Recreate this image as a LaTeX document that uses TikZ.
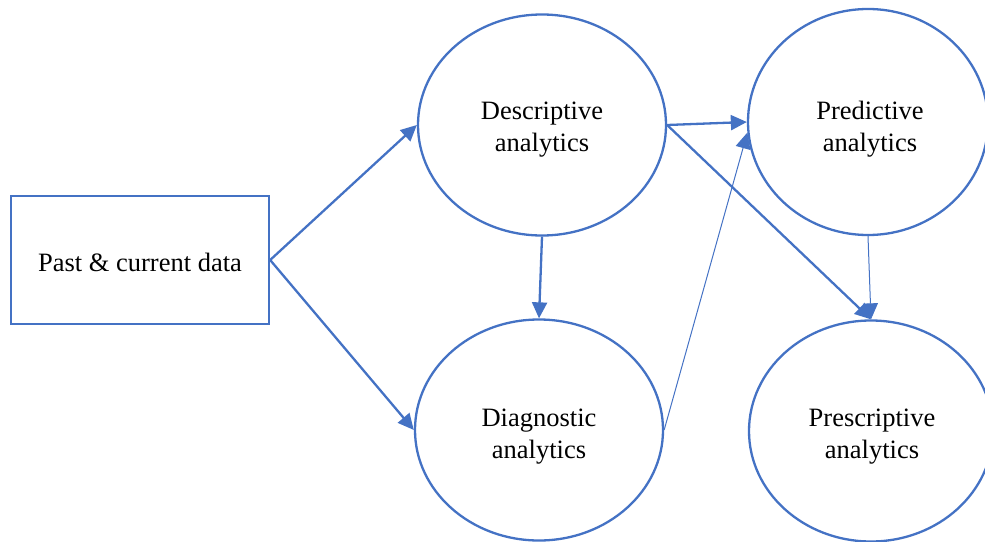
\documentclass[tikz,border=0pt]{standalone}
\usepackage{fontspec}
\setmainfont{Liberation Serif}
\usetikzlibrary{shapes.geometric,arrows.meta}
\definecolor{wblue}{HTML}{4472C4}
\tikzset{
  bub/.style={ellipse,draw=wblue,line width=2.3pt,minimum width=248pt,minimum height=221pt,inner sep=0pt},
  txt/.style={align=center,inner sep=0pt,font=\fontsize{26.5pt}{32pt}\selectfont},
  box/.style={rectangle,draw=wblue,line width=2.3pt,minimum width=258pt,minimum height=128pt,inner sep=0pt},
  con/.style={draw=wblue,line width=2.3pt,-{Triangle[length=16pt,width=15pt]},color=wblue},
  thin/.style={draw=wblue,line width=1pt,-{Triangle[length=16pt,width=15pt]},color=wblue},
}
\begin{document}
\begin{tikzpicture}[x=1pt,y=-1pt]
\useasboundingbox (0,0) rectangle (985,541);
\clip (0,0) rectangle (985,541);
\node[box] (data) at (140,260) {};
\node[txt] (datat) at (140,262) {Past \& current data};
\node[bub] (desc) at (542,125) {};
\node[txt] (desct) at (542,130) {Descriptive\\analytics};
\node[bub] (diag) at (539,430) {};
\node[txt] (diagt) at (539,437) {Diagnostic\\analytics};
\node[bub,minimum width=240pt,minimum height=226pt] (pred) at (868,122) {};
\node[txt] (predt) at (870,129) {Predictive\\analytics};
\node[bub,minimum width=244pt] (pres) at (871,431) {};
\node[txt] (prest) at (872,437) {Prescriptive\\analytics};
\draw[con] (data.east) -- (desc.west);
\draw[con] (data.east) -- (diag.west);
\draw[con] (desc.south) -- (diag.north);
\draw[con] (desc.east) -- (pred.west);
\draw[con] (desc.east) -- (pres.north);
\draw[thin] (diag.east) -- (pred.185);
\draw[thin] (pred.south) -- (pres.north);
\end{tikzpicture}
\end{document}
